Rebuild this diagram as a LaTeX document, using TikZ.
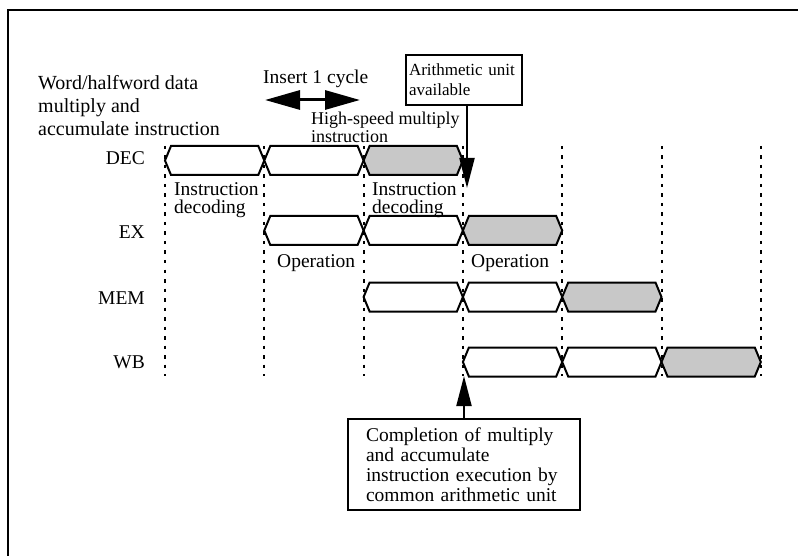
\documentclass[tikz,border=0pt]{standalone}
\usepackage{fontspec}
\setmainfont{Liberation Serif}
\usetikzlibrary{arrows.meta}
\definecolor{bandgray}{RGB}{200,200,200}
\begin{document}
\begin{tikzpicture}[x=1pt,y=-1pt,line join=miter,
	lbl/.style={inner sep=0pt,font=\fontsize{19.5}{23}\selectfont},
	band/.style={line width=2pt},
	dotline/.style={line width=2pt,dash pattern=on 3.5pt off 6pt},
	note/.style={draw,line width=2pt,align=left,inner ysep=0pt},
	callout/.style={line width=2pt,-{Triangle[length=30pt,width=15pt]}},
	cyc/.style={line width=3pt,{Triangle[length=35pt,width=19pt]}-{Triangle[length=35pt,width=19pt]}}]
	\useasboundingbox (0,0) rectangle (798,556);
	\def\xo{165}
	\def\dx{99.3}
	\def\ins{6}
	\def\hh{14.5}
	% frame
	\draw[line width=2pt] (8,556)--(8,10)--(798,10);
	% clock boundaries
	\foreach \i in {0,...,6}
		\draw[dotline] ({\xo+\i*\dx},146)--({\xo+\i*\dx},376);
	% pipeline stages
	\node[lbl,anchor=base east] (dec) at (145,165) {DEC};
	\node[lbl,anchor=base east] (ex) at (145,239) {EX};
	\node[lbl,anchor=base east] (mem) at (145,304) {MEM};
	\node[lbl,anchor=base east] (wb) at (145,368) {WB};
	\foreach \r/\y in {0/160.5,1/230.5,2/297,3/362}{
		\foreach \c/\f in {0/white,1/white,2/bandgray}{
			\pgfmathsetmacro\xa{\xo+(\r+\c)*\dx}
			\pgfmathsetmacro\xb{\xa+\dx}
			\filldraw[band,fill=\f] (\xa,\y)--(\xa+\ins,\y-\hh)--(\xb-\ins,\y-\hh)
				--(\xb,\y)--(\xb-\ins,\y+\hh)--(\xa+\ins,\y+\hh)--cycle;
		}
	}
	% texts
	\node[lbl,anchor=north west,align=left,font=\fontsize{20}{23}\selectfont] (title) at (38,75)
		{Word/halfword data\\multiply and\\accumulate instruction};
	\node[lbl,anchor=base west] (insert) at (263,84) {Insert 1 cycle};
	\node[lbl,anchor=north west,align=left,font=\fontsize{18}{17.5}\selectfont] (fast) at (311,112)
		{High-speed multiply\\instruction};
	\node[lbl,anchor=north west,align=left,font=\fontsize{19.5}{18}\selectfont] (decA) at (174,182)
		{Instruction\\decoding};
	\node[lbl,anchor=north west,align=left,font=\fontsize{19.5}{18}\selectfont] (decB) at (372,182)
		{Instruction\\decoding};
	\node[lbl,anchor=base west] (opA) at (277,268) {Operation};
	\node[lbl,anchor=base west] (opB) at (471,268) {Operation};
	% inserted cycle
	\path (265,100) coordinate (cycA) (360,100) coordinate (cycB);
	\draw[cyc] (cycA)--(cycB);
	% call-outs
	\node[note,font=\fontsize{17}{20}\selectfont,text width=110pt,inner xsep=3pt,
		minimum height=50pt] (avail) at (464,80) {Arithmetic unit\\available};
	\node[note,font=\fontsize{19.5}{20}\selectfont,text width=196pt,inner xsep=18pt,
		minimum height=91pt] (done) at (464,464.5)
		{Completion of multiply\\and accumulate\\instruction execution by\\common arithmetic unit};
	\path (467,188) coordinate (tipA) (464,376) coordinate (tipB);
	\draw[callout] (avail.south -| tipA)--(tipA);
	\draw[callout] (done.north)--(done.north |- tipB);
\end{tikzpicture}
\end{document}
